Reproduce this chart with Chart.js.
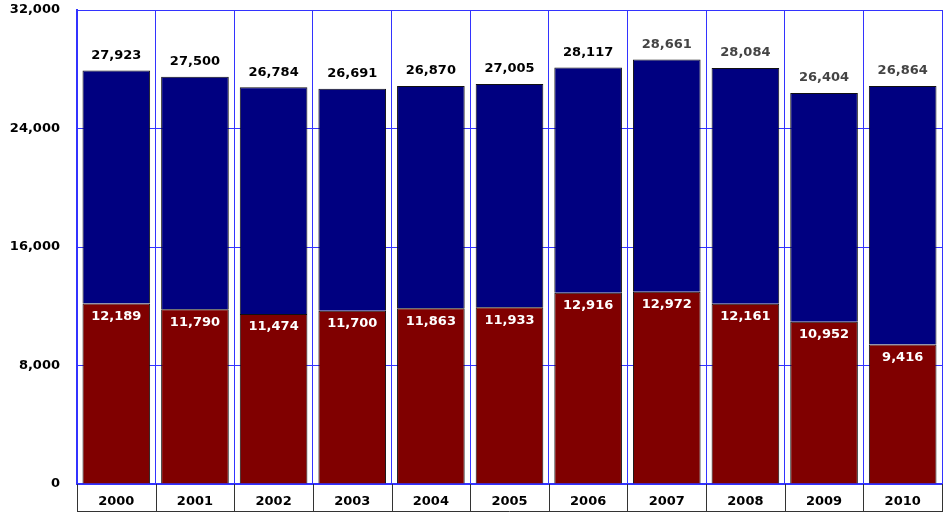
<!DOCTYPE html>
<html>
<head>
<meta charset="utf-8">
<script src="https://cdn.jsdelivr.net/npm/chart.js@4"></script>
<style>
  html, body { margin: 0; padding: 0; background: #fff; }
  #wrap { width: 943px; height: 512px; }
</style>
</head>
<body>
<div id="wrap"><canvas id="chart" width="943" height="512"></canvas></div>
<script>
// Values
const years = ['2000', '2001', '2002', '2003', '2004', '2005', '2006', '2007', '2008', '2009', '2010'];
const lowerValues = [12189, 11790, 11474, 11700, 11863, 11933, 12916, 12972, 12161, 10952, 9416];
const totals = [27923, 27500, 26784, 26691, 26870, 27005, 28117, 28661, 28084, 26404, 26864];
const upperValues = totals.map((t, i) => t - lowerValues[i]);
const yTicks = [0, 8000, 16000, 24000, 32000];

const FONT = 'bold 13px "DejaVu Sans", Verdana, sans-serif';
const fmt = n => n.toLocaleString('en-US');

// Value labels + grey dividers under the x axis
const labelsPlugin = {
  id: 'valueLabels',
  afterDatasetsDraw(chart) {
    const ctx = chart.ctx;
    const lower = chart.getDatasetMeta(0).data;
    const upper = chart.getDatasetMeta(1).data;
    ctx.save();
    ctx.font = FONT;
    ctx.textAlign = 'center';
    ctx.textBaseline = 'middle';
    lower.forEach((bar, i) => {
      ctx.fillStyle = '#fff';
      ctx.fillText(fmt(lowerValues[i]), bar.x, bar.y + 13);
    });
    upper.forEach((bar, i) => {
      ctx.fillStyle = i >= 7 ? '#444' : '#000';
      ctx.fillText(fmt(totals[i]), bar.x, bar.y - 15);
    });
    ctx.restore();
  },
  afterDraw(chart) {
    const ctx = chart.ctx;
    const area = chart.chartArea;
    const step = (area.right - area.left) / years.length;
    ctx.save();
    ctx.strokeStyle = '#333';
    ctx.lineWidth = 1;
    for (let i = 0; i <= years.length; i++) {
      const px = Math.round(area.left + i * step) + 0.5;
      ctx.beginPath();
      ctx.moveTo(px, area.bottom);
      ctx.lineTo(px, 512);
      ctx.stroke();
    }
    ctx.beginPath();
    ctx.moveTo(area.left, 511.5);
    ctx.lineTo(area.right, 511.5);
    ctx.stroke();
    ctx.restore();
  }
};

new Chart(document.getElementById('chart'), {
  type: 'bar',
  data: {
    labels: years,
    datasets: [
      {
        data: lowerValues,
        backgroundColor: '#800000',
        borderColor: '#111',
        borderWidth: 1,
        barPercentage: 0.86,
        categoryPercentage: 1
      },
      {
        data: upperValues,
        backgroundColor: '#000080',
        borderColor: '#111',
        borderWidth: 1,
        barPercentage: 0.86,
        categoryPercentage: 1
      }
    ]
  },
  options: {
    responsive: false,
    animation: false,
    layout: { padding: { top: 10, right: 1, left: 0, bottom: 0 } },
    plugins: { legend: { display: false }, tooltip: { enabled: false } },
    scales: {
      x: {
        stacked: true,
        offset: true,
        afterFit: s => { s.height = 28; s.paddingLeft = 0; s.paddingRight = 0; },
        grid: { offset: true, color: '#3333ff', lineWidth: 1, drawTicks: false },
        border: { color: '#3333ff', width: 2 },
        ticks: { color: '#000', font: { family: '"DejaVu Sans", Verdana, sans-serif', size: 13, weight: 'bold' }, padding: 10 }
      },
      y: {
        stacked: true,
        min: 0,
        max: 32000,
        afterFit: s => { s.width = 77; s.paddingTop = 0; s.paddingBottom = 0; },
        afterBuildTicks: s => { s.ticks = yTicks.map(v => ({ value: v })); },
        grid: { color: '#3333ff', lineWidth: 1, drawTicks: false },
        border: { color: '#3333ff', width: 2 },
        ticks: {
          color: '#000',
          padding: 17,
          font: { family: '"DejaVu Sans", Verdana, sans-serif', size: 13, weight: 'bold' },
          callback: v => fmt(v)
        }
      }
    }
  },
  plugins: [labelsPlugin]
});
</script>
</body>
</html>
